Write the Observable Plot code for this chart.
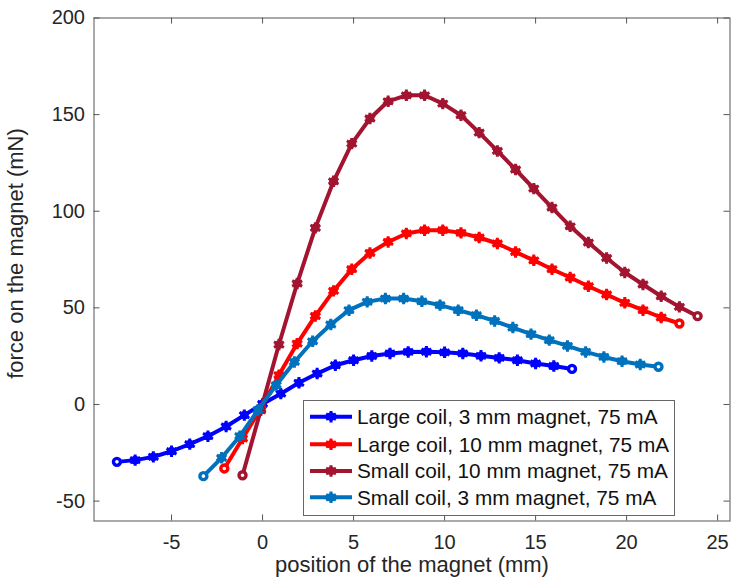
<!DOCTYPE html>
<html><head><meta charset="utf-8">
<script src="https://cdn.jsdelivr.net/npm/d3@7"></script>
<script src="https://cdn.jsdelivr.net/npm/@observablehq/plot@0.6"></script>
<style>
body{margin:0;background:#fff;}
#wrap{position:relative;width:731px;height:586px;font-family:"Liberation Sans",Arial,Helvetica,sans-serif;}
#legend{position:absolute;left:303px;top:400px;width:372px;height:116px;border:1px solid #666;background:#fff;box-sizing:border-box;}
#legend svg{position:absolute;left:-1px;top:-1px;}
</style></head><body><div id="wrap"><div id="legend"></div></div>
<script>
const xTicks = [-5, 0, 5, 10, 15, 20, 25];
const yTicks = [-50, 0, 50, 100, 150, 200];
const xLabel = "position of the magnet (mm)";
const yLabel = "force on the magnet (mN)";
const seriesNames = ["Large coil, 3 mm magnet, 75 mA", "Large coil, 10 mm magnet, 75 mA", "Small coil, 10 mm magnet, 75 mA", "Small coil, 3 mm magnet, 75 mA"];
const seriesColors = ["#0000ff", "#ff0000", "#a2142f", "#0072bd"];

const xLarge3 = [-8, -7, -6, -5, -4, -3, -2, -1, 0, 1, 2, 3, 4, 5, 6, 7, 8, 9, 10, 11, 12, 13, 14, 15, 16, 17];
const yLarge3 = [-29.7, -28.8, -27.1, -24.2, -20.5, -16.4, -11.4, -5.5, 0.3, 5.6, 11.2, 16.0, 20.3, 22.9, 25.1, 26.4, 27.2, 27.3, 27.0, 26.4, 25.2, 24.1, 22.9, 21.2, 19.9, 18.4];

const xLarge10 = [-2.1, -1.1, -0.1, 0.9, 1.9, 2.9, 3.9, 4.9, 5.9, 6.9, 7.9, 8.9, 9.9, 10.9, 11.9, 12.9, 13.9, 14.9, 15.9, 16.9, 17.9, 18.9, 19.9, 20.9, 21.9, 22.9];
const yLarge10 = [-33.1, -17.6, -2.1, 15.2, 31.5, 45.8, 58.8, 70.0, 78.4, 84.1, 88.5, 90.2, 90.2, 88.8, 86.4, 83.3, 78.9, 74.6, 70.0, 65.7, 61.2, 56.9, 52.6, 48.8, 45.0, 41.9];

const xSmall10 = [-1.1, -0.1, 0.9, 1.9, 2.9, 3.9, 4.9, 5.9, 6.9, 7.9, 8.9, 9.9, 10.9, 11.9, 12.9, 13.9, 14.9, 15.9, 16.9, 17.9, 18.9, 19.9, 20.9, 21.9, 22.9, 23.9];
const ySmall10 = [-36.6, -3.0, 31.0, 62.6, 91.4, 115.5, 135.0, 148.0, 156.9, 160.0, 160.0, 155.7, 149.7, 140.7, 131.2, 121.6, 111.7, 101.9, 92.2, 83.8, 75.8, 68.3, 62.1, 56.0, 50.5, 45.7];

const xSmall3 = [-3.25, -2.25, -1.25, -0.25, 0.75, 1.75, 2.75, 3.75, 4.75, 5.75, 6.75, 7.75, 8.75, 9.75, 10.75, 11.75, 12.75, 13.75, 14.75, 15.75, 16.75, 17.75, 18.75, 19.75, 20.75, 21.75];
const ySmall3 = [-37.1, -27.6, -16.4, -2.9, 10.0, 22.0, 32.7, 41.4, 48.8, 53.1, 54.8, 54.8, 53.4, 51.4, 48.8, 46.2, 43.2, 39.8, 36.4, 33.3, 30.3, 27.2, 24.6, 22.4, 20.7, 19.5];

const xs = [xLarge3, xLarge10, xSmall10, xSmall3];
const ys = [yLarge3, yLarge10, ySmall10, ySmall3];

// layout
const W = 731, H = 586;
const mL = 93.5, mR = 1.5, mT = 17.5, mB = 65.5;
const frameW = W - mL - mR, frameH = H - mT - mB;
const tickLen = 6;
const axisColor = "#555";
const textColor = "#262626";
const fontFam = '"Liberation Sans", Arial, Helvetica, sans-serif';

const series = seriesNames.map((name, s) => xs[s].map((x, i) => ({series: name, x, y: ys[s][i], i, n: xs[s].length})));

const marks = [
  Plot.frame({stroke: axisColor, strokeWidth: 1}),
  Plot.tickX(xTicks, {x: d => d, insetTop: frameH - tickLen, stroke: axisColor}),
  Plot.tickX(xTicks, {x: d => d, insetBottom: frameH - tickLen, stroke: axisColor}),
  Plot.tickY(yTicks, {y: d => d, insetRight: frameW - tickLen, stroke: axisColor}),
  Plot.tickY(yTicks, {y: d => d, insetLeft: frameW - tickLen, stroke: axisColor}),
  Plot.axisX({ticks: xTicks, tickSize: 0, tickPadding: 14, tickFormat: d => String(d), label: null, fontSize: 20, fill: textColor}),
  Plot.axisY({ticks: yTicks, tickSize: 0, tickPadding: 9, tickFormat: d => String(d), label: null, fontSize: 20, fill: textColor}),
  Plot.text([xLabel], {frameAnchor: "bottom", textAnchor: "middle", lineAnchor: "bottom", dy: 51, text: d => d, fontSize: 22, fill: textColor}),
  Plot.text([yLabel], {frameAnchor: "left", textAnchor: "middle", rotate: -90, lineAnchor: "bottom", dx: 22 - mL, dy: -16, text: d => d, fontSize: 22, fill: textColor})
];

series.forEach((pts, s) => {
  const c = seriesColors[s];
  const inner = pts.filter(d => d.i > 0 && d.i < d.n - 1);
  const ends = pts.filter(d => d.i === 0 || d.i === d.n - 1);
  marks.push(
    Plot.line(pts, {x: "x", y: "y", stroke: c, strokeWidth: 4, strokeLinejoin: "round"}),
    Plot.dot(inner, {x: "x", y: "y", r: 4.4, fill: c}),
    Plot.dot(inner, {x: "x", y: "y", symbol: "asterisk", r: 5.4, stroke: c, strokeWidth: 3}),
    Plot.dot(ends, {x: "x", y: "y", r: 3.5, fill: "white", stroke: c, strokeWidth: 3.4})
  );
});

const chart = Plot.plot({
  width: W, height: H,
  marginLeft: mL, marginRight: mR, marginTop: mT, marginBottom: mB,
  x: {domain: [-9.26, 25.68]},
  y: {domain: [-60.3, 200]},
  style: {fontFamily: fontFam, fontSize: "20px", color: textColor, background: "white", overflow: "visible"},
  marks
});
const wrap = document.getElementById("wrap");
wrap.insertBefore(chart, wrap.firstChild);

// legend (inside axes, upper layer)
const lg = d3.select("#legend").append("svg").attr("width", 372).attr("height", 116);
const rowY = [16.7, 44.3, 71, 97.3];
seriesNames.forEach((name, s) => {
  const c = seriesColors[s];
  const g = lg.append("g").attr("transform", `translate(0,${rowY[s]})`);
  g.append("line").attr("x1", 7).attr("x2", 49).attr("y1", 0).attr("y2", 0).attr("stroke", c).attr("stroke-width", 4);
  g.append("circle").attr("cx", 28).attr("cy", 0).attr("r", 4.4).attr("fill", c);
  g.append("path").attr("transform", "translate(28,0)").attr("d", d3.symbol(d3.symbolAsterisk, Math.PI * 5.4 * 5.4)()).attr("stroke", c).attr("stroke-width", 3).attr("fill", "none");
  g.append("text").attr("x", 54).attr("y", 0).attr("dy", "0.35em").attr("font-family", fontFam).attr("font-size", 20.8).attr("fill", "#111").text(name);
});
</script></body></html>
